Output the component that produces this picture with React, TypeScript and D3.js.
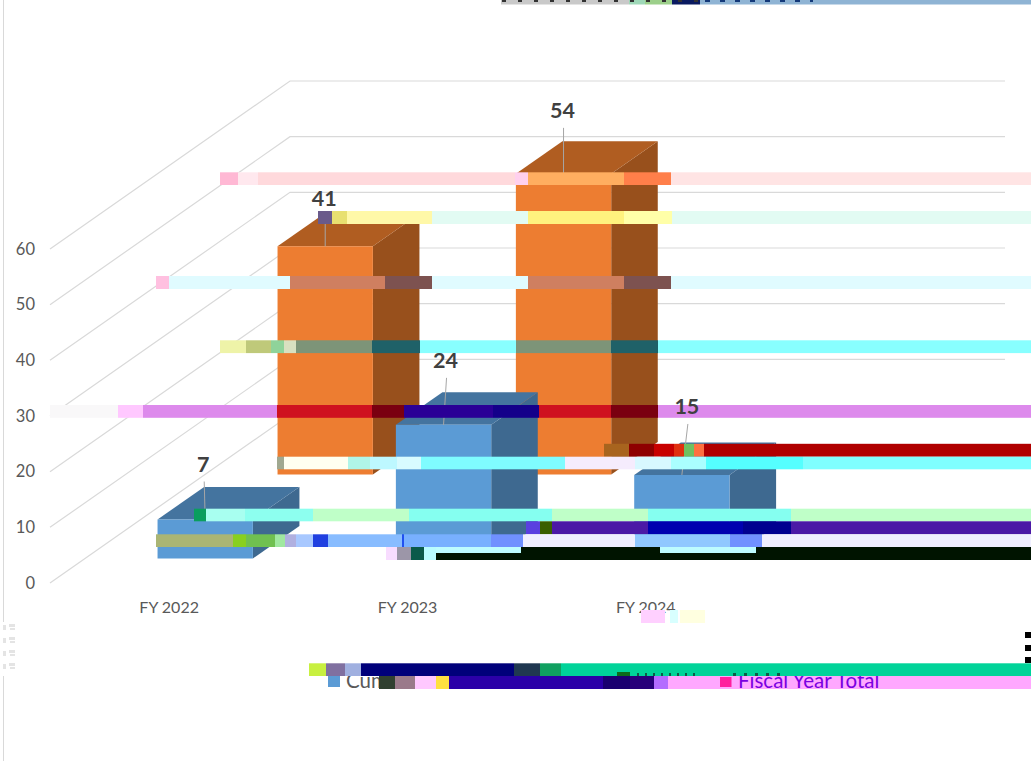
import React from "react";
import * as d3 from "d3";

// ---- chart values ----
const categories = ["FY 2022", "FY 2023", "FY 2024"];
const cumulativeValues = [7, 24, 15];
const fiscalYearValues: (number | null)[] = [41, 54, null];
const yTicks = [0, 10, 20, 30, 40, 50, 60];
const seriesNames = ["Cumulative Total", "Fiscal Year Total"];

// ---- palette and projection ----
const FONT = "Lato, 'Open Sans', sans-serif";
const BLUE = { front: "#5b9bd5", side: "#3e6990", top: "#44749f" };
const ORANGE = { front: "#ed7d31", side: "#98501c", top: "#b05d21" };
const FLOOR_DX = 240;
const FLOOR_DY = -168;

// ---- image damage present in the reference: y, height, [x0, x1, colour] ----
type Seg = [number, number, string];
const DAMAGE: [number, number, Seg[]][] = [
  [0, 4.5, [[501, 629, "#c9c9c9"], [629, 645, "#9fd8b8"], [645, 672, "#9ccf8a"], [672, 700, "#0a1a60"], [700, 1031, "#8fb4d4"]]],
  [172.3, 12.7, [[220, 238, "#ffb8d4"], [238, 258, "#ffe8ee"], [258, 515, "#ffd9dc"], [515, 528, "#ffd0ee"], [528, 624, "#ffae60"], [624, 671, "#ff7f4a"], [671, 1031, "#ffe4e4"]]],
  [211, 13, [[318, 332, "#6a5a8a"], [332, 347, "#e8e070"], [347, 432, "#fff8a8"], [432, 528, "#e2fbf3"], [528, 624, "#fff27e"], [624, 672, "#ffffa8"], [672, 1031, "#e2fbf3"]]],
  [276, 13, [[156, 169, "#ffc0e0"], [169, 290, "#e0fbff"], [290, 385, "#cf7f60"], [385, 432, "#7d5250"], [432, 528, "#e0fbff"], [528, 624, "#cf7f60"], [624, 671, "#7d5250"], [671, 1031, "#e0fbff"]]],
  [340.3, 12.8, [[220, 246, "#eef3a8"], [246, 271, "#bfc97a"], [271, 284, "#8fd39a"], [284, 296, "#d8e0c0"], [296, 372, "#7d9478"], [372, 420, "#1f6168"], [420, 516, "#88ffff"], [516, 611, "#7d9478"], [611, 658, "#1f6168"], [658, 1031, "#88ffff"]]],
  [405, 12.8, [[50, 118, "#f9f8f9"], [118, 143, "#ffc8ff"], [143, 277, "#dd8aec"], [277, 372, "#cf111f"], [372, 404, "#7a0010"], [404, 493, "#2a0096"], [493, 539, "#14008a"], [539, 611, "#cf111f"], [611, 658, "#7a0010"], [658, 1031, "#dd8aec"]]],
  [443.8, 12.9, [[604, 629, "#a8641e"], [629, 654, "#8e0000"], [654, 674, "#c80000"], [674, 684, "#e03010"], [684, 694, "#70c060"], [694, 704, "#ff7040"], [704, 1031, "#b00000"]]],
  [456.7, 12.6, [[277, 284, "#a0a890"], [284, 348, "#fffff0"], [348, 370, "#b0f5e8"], [370, 397, "#bdf8ff"], [397, 421, "#d8fbff"], [421, 565, "#7ffcff"], [565, 635, "#f5ecfd"], [635, 671, "#d8f8ff"], [671, 706, "#aaffff"], [706, 803, "#55ffff"], [803, 1031, "#7fffff"]]],
  [508.7, 12.6, [[194, 206, "#0a9e5e"], [206, 245, "#a8fff0"], [245, 313, "#8dffef"], [313, 409, "#bfffc8"], [409, 552, "#85fff0"], [552, 648, "#bfffc8"], [648, 791, "#85fff0"], [791, 1031, "#bfffc8"]]],
  [521.3, 13, [[526, 540, "#5a40e0"], [540, 552, "#3a6000"], [552, 648, "#4b19a6"], [648, 743, "#0000b0"], [743, 791, "#000090"], [791, 1031, "#4b19a6"]]],
  [534.3, 12.7, [[156, 233, "#aab574"], [233, 246, "#88d020"], [246, 275, "#70c050"], [275, 285, "#a0e8a0"], [285, 296, "#b0b0e0"], [296, 313, "#a8c8ff"], [313, 328, "#2040e0"], [328, 402, "#88bcff"], [402, 404, "#2050f0"], [404, 491, "#78b0ff"], [491, 523, "#7090ff"], [523, 635, "#f0efff"], [635, 730, "#90c8ff"], [730, 762, "#7090ff"], [762, 1031, "#f0efff"]]],
  [547, 13, [[386, 397, "#f8dcff"], [397, 411, "#9c96a8"], [411, 424, "#0a5a4a"], [424, 436, "#b8fcff"], [436, 1031, "#001400"]]],
  [610, 13, [[641, 665, "#ffd0ff"], [670, 678, "#d8ffff"], [680, 705, "#ffffe0"]]],
  [663.3, 12.7, [[309, 326, "#c8f040"], [326, 345, "#8070a0"], [345, 361, "#a0b0e0"], [361, 514, "#00007a"], [514, 540, "#203850"], [540, 561, "#10a060"], [561, 1031, "#00d399"]]],
  [676, 13, [[379, 395, "#304030"], [395, 415, "#9a7a8a"], [415, 436, "#ffc8ff"], [436, 449, "#ffe040"], [449, 603, "#2b00a8"], [603, 630, "#1a0070"], [630, 654, "#28007a"], [654, 668, "#b36cff"], [668, 1031, "#ffa8ff"]]],
];
const PALE_CAPS: Seg[] = [[436, 521, "#bdfcff"], [660, 756, "#bdfcff"]];

const W = 1031;
const H = 761;

const App = () => {
  const x = d3.scaleBand<string>().domain(categories).range([51, 766]).paddingInner(0.6).paddingOuter(0.3);
  const y = d3.scaleLinear().domain([0, 60]).range([583, 249]);
  const zero = y(0);
  const grid = d3.line<[number, number]>();

  const bar = (cat: string, value: number, t0: number, t1: number, c: typeof BLUE) => {
    const b = t1 - t0;
    const x0 = x(cat)! + FLOOR_DX * t0;
    const x1 = x0 + x.bandwidth();
    const base = zero + FLOOR_DY * t0;
    const top = base - (zero - y(value));
    const dx = FLOOR_DX * b;
    const dy = FLOOR_DY * b;
    return {
      cx: (x0 + x1) / 2,
      top,
      front: grid([[x0, base], [x1, base], [x1, top], [x0, top]])! + "Z",
      side: grid([[x1, base], [x1 + dx, base + dy], [x1 + dx, top + dy], [x1, top]])! + "Z",
      lid: grid([[x0, top], [x1, top], [x1 + dx, top + dy], [x0 + dx, top + dy]])! + "Z",
      c,
    };
  };

  const back = categories.flatMap((cat, i) =>
    fiscalYearValues[i] == null
      ? []
      : [{ ...bar(cat, fiscalYearValues[i] as number, 0.646, 0.84, ORANGE), v: fiscalYearValues[i] as number, lift: [48, 63, 0][i], shift: [0, 0, 0][i] }]
  );
  const front = categories.map((cat, i) => ({
    ...bar(cat, cumulativeValues[i], 0.146, 0.34, BLUE),
    v: cumulativeValues[i],
    lift: [55, 64, 68][i],
    shift: [-1, 3, 6][i],
  }));
  const marks = [...back, ...front];

  const leaderGap = 17;

  return (
    <svg width={W} height={H} style={{ position: "absolute", left: 0, top: 0, background: "#fff" }} fontFamily={FONT}>
      <defs>
        <clipPath id="legendClip"><rect x={0} y={676} width={W} height={13} /></clipPath>
      </defs>

      {/* chart-area frame */}
      <line x1={3.5} x2={3.5} y1={0} y2={622} stroke="#d9d9d9" />
      <line x1={3.5} x2={3.5} y1={676} y2={H} stroke="#d9d9d9" />

      {/* walls */}
      {yTicks.map((t) => {
        const yf = y(t);
        const yb = yf + FLOOR_DY;
        return (
          <g key={t}>
            <path d={grid([[50, yf], [50 + FLOOR_DX, yb], [1005, yb]])!} fill="none" stroke="#d9d9d9" strokeWidth={1.2} />
            <text x={35} y={yf + 5.5} textAnchor="end" fontSize={16.5} fill="#595959">{t}</text>
          </g>
        );
      })}

      {/* bars */}
      {marks.map((m, i) => (
        <g key={i}>
          <path d={m.side} fill={m.c.side} />
          <path d={m.lid} fill={m.c.top} />
          <path d={m.front} fill={m.c.front} />
          <line x1={m.cx + m.shift} x2={m.cx} y1={m.top - m.lift + leaderGap} y2={m.top} stroke="#a6a6a6" />
        </g>
      ))}

      {categories.map((c) => (
        <text key={c} x={x(c)! + x.bandwidth() / 2 - 1} y={613} textAnchor="middle" fontSize={16} fill="#595959">{c}</text>
      ))}

      {/* legend */}
      <rect x={328} y={676} width={12} height={11} fill={BLUE.front} />
      <text x={346} y={688} fontSize={20.5} fill="#595959" clipPath="url(#legendClip)">{seriesNames[0]}</text>

      {/* damage bands */}
      {DAMAGE.map(([top, h, segs], i) =>
        segs.map(([x0, x1, col], j) => <rect key={`${i}-${j}`} x={x0} y={top} width={x1 - x0} height={h} fill={col} />)
      )}
      {PALE_CAPS.map(([x0, x1, col]) => <rect key={x0} x={x0} y={547} width={x1 - x0} height={6} fill={col} />)}
      {[627, 640, 653, 666].map((v) => (
        <g key={v} fill="#e4e4e4">
          <rect x={3} y={v - 2} width={3} height={5} />
          <rect x={9} y={v - 3} width={6} height={3} />
          <rect x={10} y={v + 1} width={5} height={2} />
        </g>
      ))}
      {[632, 645, 657].map((v) => <rect key={v} x={1025} y={v} width={6} height={6} fill="#000" />)}
      <line x1={502} x2={700} y1={1} y2={1} stroke="#333" strokeWidth={2} strokeDasharray="4 12" />
      <line x1={705} x2={813} y1={1} y2={1} stroke="#143a7a" strokeWidth={2} strokeDasharray="5 10" />

      {/* legend entries recoloured by the damage */}
      <rect x={720} y={677} width={11.5} height={10} fill="#ff1f9e" />
      <text x={738} y={688} fontSize={20.5} fill="#7a00e0" clipPath="url(#legendClip)">{seriesNames[1]}</text>
      <rect x={617} y={672} width={13} height={4} fill="#0c6b1a" />
      <line x1={637} x2={700} y1={674.5} y2={674.5} stroke="#0b5c46" strokeWidth={3} strokeDasharray="2 6" />
      <line x1={733} x2={780} y1={674.5} y2={674.5} stroke="#0b5c46" strokeWidth={3} strokeDasharray="3 8" />

      {/* data labels */}
      {marks.map((m, i) => (
        <text key={i} x={m.cx + m.shift - 1} y={m.top - m.lift + 7.5} textAnchor="middle" fontSize={21.5} fontWeight={700} fill="#404040">{m.v}</text>
      ))}
    </svg>
  );
};

export default App;
